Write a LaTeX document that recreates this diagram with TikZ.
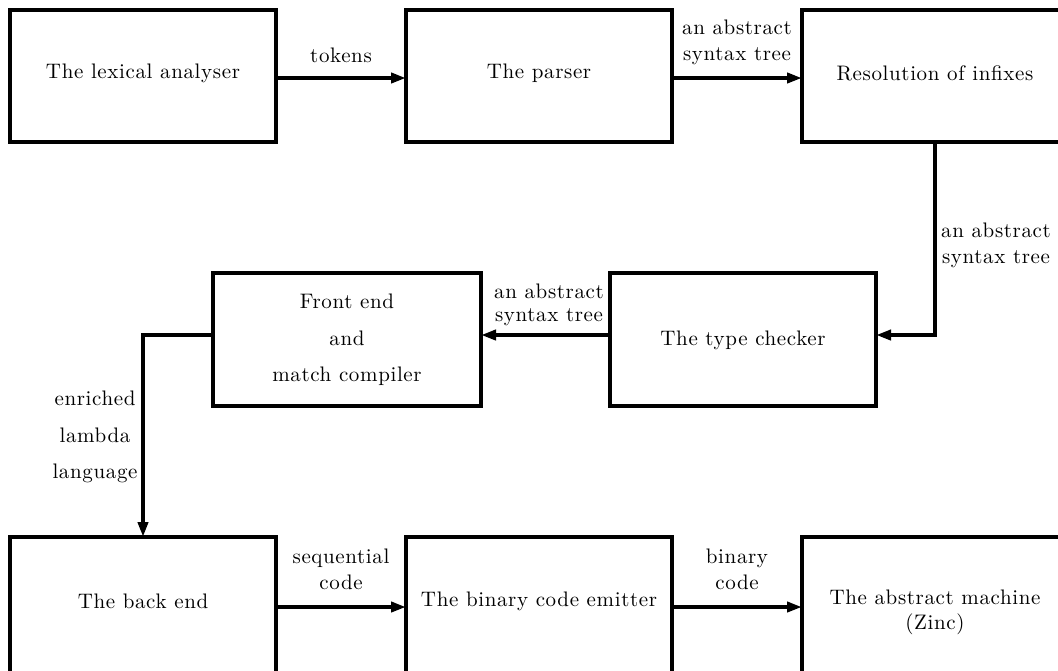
\documentclass[tikz,border=0pt]{standalone}
\usepackage{fontspec}
\setmainfont{lmroman10-regular}[Extension=.otf,LetterSpace=3]
\usetikzlibrary{arrows.meta}
\tikzset{
  box/.style={draw, line width=4pt, inner sep=0pt, outer sep=0pt, minimum width=266pt, minimum height=132pt},
  txt/.style={align=center, inner sep=0pt, font=\fontsize{21}{25}\selectfont},
  lbl/.style={align=center, inner sep=0pt, font=\fontsize{21}{26}\selectfont},
  wide/.style={align=center, inner sep=0pt, font=\fontsize{21}{36.5}\selectfont},
  arr/.style={line width=4pt, -{Triangle[length=15pt,width=10pt]}},
}
\begin{document}
\begin{tikzpicture}[x={(1pt,0)}, y={(0,-1pt)}]
\useasboundingbox (0,0) rectangle (1058,670);
% boxes
\node[box] (b1) at (143,76) {};
\node[box] (b2) at (539,76) {};
\node[box] (b3) at (935,76) {};
\node[box, minimum width=268pt, minimum height=133pt] (fe) at (347,339.5) {};
\node[box, minimum height=133pt] (tc) at (743,339.5) {};
\node[box, minimum height=140pt] (be) at (143,607) {};
\node[box, minimum height=140pt] (em) at (539,607) {};
\node[box, minimum height=140pt] (am) at (935,607) {};
% box texts
\node[txt] (t1) at (143,73) {The lexical analyser};
\node[txt] (t2) at (539,73) {The parser};
\node[txt] (t3) at (935,73) {Resolution of infixes};
\node[wide] (t4) at (347,340) {Front end\\and\\match compiler};
\node[txt] (t5) at (743,340) {The type checker};
\node[txt] (t6) at (143,601) {The back end};
\node[txt] (t7) at (539,601) {The binary code emitter};
\node[txt] (t8) at (935,612.5) {The abstract machine\\(Zinc)};
% connectors
\draw[arr] ([yshift=-2pt]b1.east) -- ([yshift=-2pt]b2.west);
\draw[arr] ([yshift=-2pt]b2.east) -- ([yshift=-2pt]b3.west);
\draw[arr] (b3.south) |- ([yshift=4.5pt]tc.east);
\draw[arr] ([yshift=4.5pt]tc.west) -- ([yshift=4.5pt]fe.east);
\draw[arr] ([yshift=4.5pt]fe.west) -| (be.north);
\draw[arr] (be.east) -- (em.west);
\draw[arr] (em.east) -- (am.west);
% labels
\node[lbl] (l1) at (341,55) {tokens};
\node[lbl] (l2) at (737,42) {an abstract\\syntax tree};
\node[lbl] (l3) at (996,245) {an abstract\\syntax tree};
\node[lbl, font=\fontsize{21}{23.5}\selectfont] (l4) at (549,305) {an abstract\\syntax tree};
\node[wide] (l5) at (95,437) {enriched\\lambda\\language};
\node[lbl] (l6) at (341,569) {sequential\\code};
\node[lbl] (l7) at (737,569) {binary\\code};
\end{tikzpicture}
\end{document}
